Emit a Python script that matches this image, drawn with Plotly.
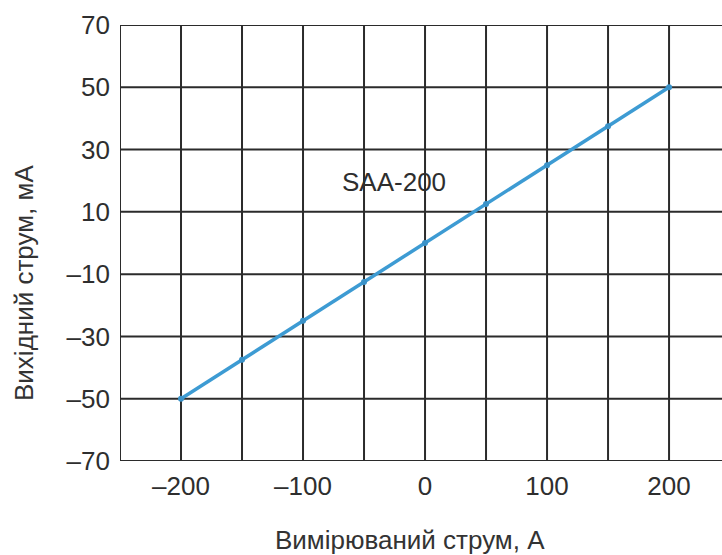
import plotly.graph_objects as go

# Measured current (A) and the corresponding sensor output (mA)
current_a = [-200, -150, -100, -50, 0, 50, 100, 150, 200]
output_ma = [-50, -37.5, -25, -12.5, 0, 12.5, 25, 37.5, 50]

x_ticks = [-200, -100, 0, 100, 200]
x_tick_text = ["–200", "–100", "0", "100", "200"]
y_ticks = [-70, -50, -30, -10, 10, 30, 50, 70]
y_tick_text = ["–70", "–50", "–30", "–10", "10", "30", "50", "70"]

FONT = "Liberation Sans, Arial, sans-serif"
GRID = "#2b2b2b"
TEXT = "#2e2e2e"

X_MIN, X_MAX = -250, 243.4
Y_MIN, Y_MAX = -70, 70

# plot area in pixels (used to place the axis titles)
W, H = 722, 555
ML, MR, MT, MB = 120, 0, 25, 94
PW, PH = W - ML - MR, H - MT - MB


def paper_x(px):
    return (px - ML) / PW


def paper_y(py):
    return (H - MB - py) / PH


fig = go.Figure()

# vertical grid every 50 A
for xv in range(-250, 201, 50):
    fig.add_shape(type="line", xref="x", yref="y", x0=xv, x1=xv, y0=Y_MIN, y1=Y_MAX,
                  line=dict(color=GRID, width=2), layer="below")
# horizontal grid every 20 mA
for yv in y_ticks:
    fig.add_shape(type="line", xref="x", yref="y", x0=X_MIN, x1=X_MAX, y0=yv, y1=yv,
                  line=dict(color=GRID, width=2), layer="below")

fig.add_trace(go.Scatter(
    x=current_a, y=output_ma, mode="lines+markers",
    line=dict(color="#3d9bd3", width=3.5),
    marker=dict(color="#3a92c8", size=6, symbol="circle"),
    showlegend=False,
))

fig.update_layout(
    width=W, height=H,
    margin=dict(l=ML, r=MR, t=MT, b=MB),
    paper_bgcolor="white", plot_bgcolor="white",
    font=dict(family=FONT, size=26, color=TEXT),
    xaxis=dict(range=[X_MIN, X_MAX], tickmode="array", tickvals=x_ticks, ticktext=x_tick_text,
               showgrid=False, zeroline=False, showline=False, ticks="",
               ticklabelstandoff=7, tickfont=dict(size=26)),
    yaxis=dict(range=[Y_MIN, Y_MAX], tickmode="array", tickvals=y_ticks, ticktext=y_tick_text,
               showgrid=False, zeroline=False, showline=False, ticks="",
               ticklabelstandoff=9, tickfont=dict(size=26)),
)

fig.add_annotation(x=-25.4, y=19.6, xref="x", yref="y", text="SAA-200",
                   showarrow=False, font=dict(family=FONT, size=26, color=TEXT))
fig.add_annotation(x=paper_x(410), y=paper_y(540), xref="paper", yref="paper",
                   xanchor="center", yanchor="middle",
                   text="Вимірюваний струм, А", showarrow=False,
                   font=dict(family=FONT, size=26, color="#333333"))
fig.add_annotation(x=paper_x(24), y=paper_y(283), xref="paper", yref="paper",
                   xanchor="center", yanchor="middle", textangle=-90,
                   text="Вихідний струм, мА", showarrow=False,
                   font=dict(family=FONT, size=26, color="#333333"))

fig.write_html("out.html")
